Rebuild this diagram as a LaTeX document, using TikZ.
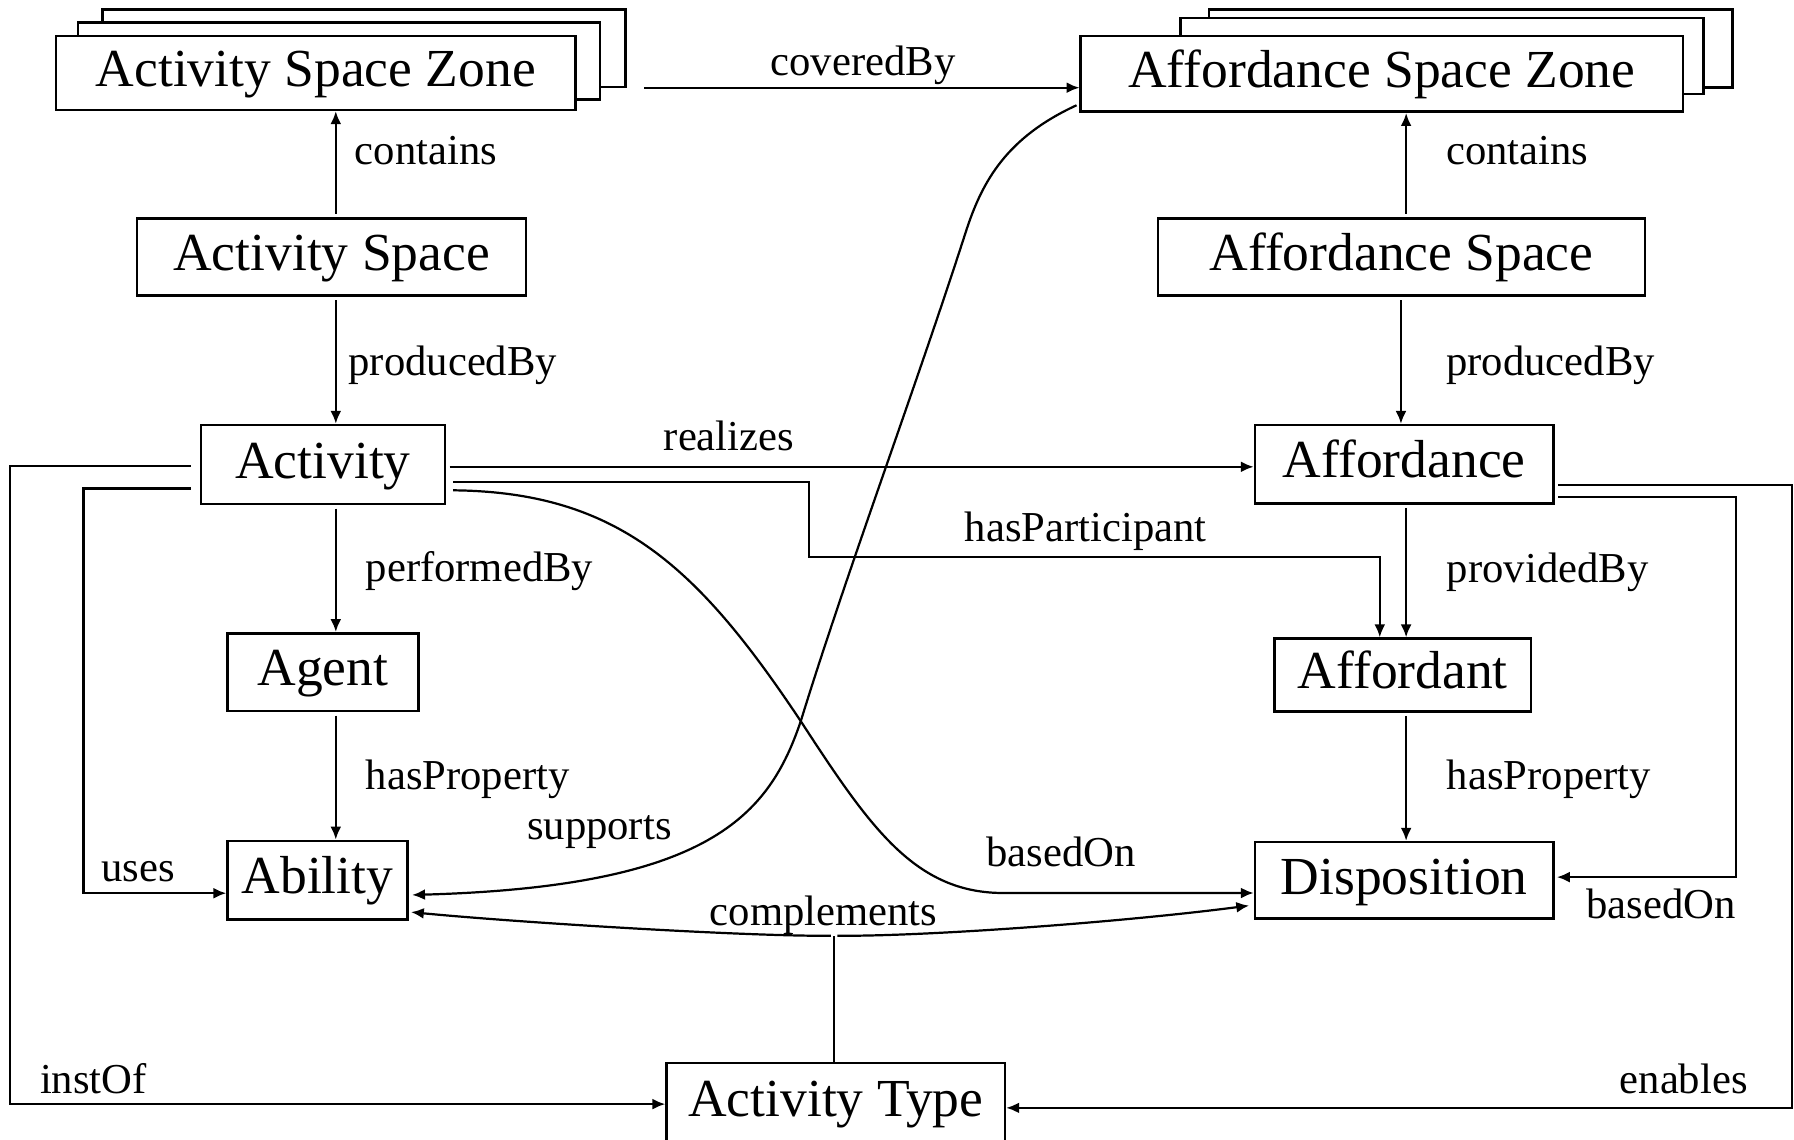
\documentclass[tikz,border=0pt]{standalone}
\usepackage{fontspec}
\setmainfont{Liberation Serif}
\usetikzlibrary{arrows.meta,calc,backgrounds}

\newcommand\conceptfont{\fontsize{13.3}{16}\selectfont}
\newcommand\relfont{\fontsize{10.6}{13}\selectfont}

\begin{document}
\begin{tikzpicture}[x=0.01cm,y=-0.01cm,
  concept/.style={draw, line width=0.65pt, fill=white, inner sep=0pt,
    font=\conceptfont, text height=9.04pt, text depth=2.26pt},
  stackbox/.style={draw, line width=0.65pt, fill=white},
  rel/.style={line width=0.55pt},
  arr/.style={rel, shorten <=0.8pt, -{Latex[length=3.2pt,width=2.7pt]}},
  lbl/.style={font=\relfont, inner sep=0pt, anchor=base west}]

\useasboundingbox (0,0) rectangle (1568,996);

% concepts
\node[concept, minimum width=4.54cm, minimum height=0.645cm] (asz)  at (276,63.75)   {Activity Space Zone};
\node[concept, minimum width=3.40cm, minimum height=0.677cm] (as)   at (289.75,224.6) {Activity Space};
\node[concept, minimum width=2.134cm, minimum height=0.69cm] (act)  at (282.3,406)    {Activity};
\node[concept, minimum width=1.665cm, minimum height=0.68cm] (agent) at (282.3,587.5) {Agent};
\node[concept, minimum width=1.57cm, minimum height=0.685cm] (abil) at (277.5,769.2)  {Ability};
\node[concept, minimum width=5.26cm, minimum height=0.661cm] (afsz) at (1207.8,64.6)  {Affordance Space Zone};
\node[concept, minimum width=4.254cm, minimum height=0.677cm] (afs) at (1225,224.6)   {Affordance Space};
\node[concept, minimum width=2.605cm, minimum height=0.684cm] (aff) at (1227.3,405.8) {Affordance};
\node[concept, minimum width=2.24cm, minimum height=0.636cm] (affd) at (1226,590)     {Affordant};
\node[concept, minimum width=2.605cm, minimum height=0.67cm] (disp) at (1227.3,769.5) {Disposition};
\node[concept, minimum width=2.955cm, minimum height=0.69cm] (atype) at (730.5,963.5) {Activity Type};

% stacked sheets behind the zone concepts
\begin{scope}[on background layer]
  \draw[stackbox] ($(asz.north west)+(42,-21.9)$) rectangle ($(asz.south east)+(42.5,-21)$);
  \draw[stackbox] ($(asz.north west)+(20.5,-10.5)$) rectangle ($(asz.south east)+(20,-10)$);
  \draw[stackbox] ($(afsz.north west)+(113.2,-21.9)$) rectangle ($(afsz.south east)+(42.2,-22.4)$);
  \draw[stackbox] ($(afsz.north west)+(88.2,-14.6)$) rectangle ($(afsz.south east)+(16.6,-16.6)$);
\end{scope}

% vertical columns
\coordinate (colL) at (293.5,0);
\coordinate (colRa) at (1229,0);
\coordinate (colRb) at (1224.5,0);

\draw[arr] (colL |- as.north) -- (colL |- asz.south);
\draw[arr] (colL |- as.south) -- (colL |- act.north);
\draw[arr] (colL |- act.south) -- (colL |- agent.north);
\draw[arr] (colL |- agent.south) -- (colL |- abil.north);
\draw[arr] (colRa |- afs.north) -- (colRa |- afsz.south);
\draw[arr] (colRb |- afs.south) -- (colRb |- aff.north);
\draw[arr] (colRa |- aff.south) -- (colRa |- affd.north);
\draw[arr] (colRa |- affd.south) -- (colRa |- disp.north);

% coveredBy
\coordinate (cvS) at ($(asz.east)+(56,12.9)$);
\draw[arr] (cvS) -- (cvS -| afsz.west);

% realizes
\coordinate (rzS) at ($(act.east)+(0,2)$);
\draw[arr] (rzS) -- (rzS -| aff.west);

% hasParticipant
\coordinate (hpS) at ($(act.east)+(3,15)$);
\coordinate (hpX) at (707,487);
\coordinate (hpD) at (1206,0);
\draw[arr] (hpS) -- (hpS -| hpX) -- (hpX) -- (hpX -| hpD) -- (hpD |- affd.north);

% basedOn (activity to disposition)
\coordinate (boS) at ($(act.east)+(3,22.5)$);
\coordinate (boE) at ($(disp.west)+(0,11)$);
\draw[arr] (boS) .. controls (540,430) and (610,495) .. (701,632)
  .. controls (761,724) and (800,780.5) .. (877,780.5) -- (boE);

% supports
\coordinate (spS) at ($(afsz.south west)+(0,-8)$);
\coordinate (spE) at ($(abil.east)+(3,13)$);
\draw[arr] (spS) .. controls (880,120) and (859,158) .. (845,200)
  .. controls (800,340) and (740,500) .. (700,630)
  .. controls (672,713) and (620,775) .. (spE);

% complements
\coordinate (cj) at ($(atype.north)+(-1.5,-110)$);
\draw[rel, line width=0.4pt] (atype.north -| cj) -- (cj);
\draw[arr] (cj) .. controls (650,818.5) and (450,806) .. ($(abil.east)+(2,28)$);
\draw[arr] (cj) .. controls (810,818.5) and (980,806) .. ($(disp.west)+(-4,22)$);

% uses
\coordinate (usS) at ($(act.west)+(-5,21)$);
\coordinate (usX) at (73,0);
\coordinate (usE) at ($(abil.west)+(0,11.5)$);
\draw[arr] (usS) -- (usS -| usX) -- (usX |- usE) -- (usE);

% instOf
\coordinate (ioS) at ($(act.west)+(-5,1.5)$);
\coordinate (ioX) at (8.6,0);
\coordinate (ioE) at ($(atype.west)+(0,1.5)$);
\draw[arr] (ioS) -- (ioS -| ioX) -- (ioX |- ioE) -- (ioE);

% enables
\coordinate (enS) at ($(aff.east)+(0.5,18)$);
\coordinate (enX) at (1566.5,0);
\coordinate (enE) at ($(atype.east)+(0,4.8)$);
\draw[arr] (enS) -- (enS -| enX) -- (enX |- enE) -- (enE);

% basedOn (affordance to disposition)
\coordinate (brS) at ($(aff.east)+(0.5,28.7)$);
\coordinate (brX) at (1517.6,0);
\coordinate (brE) at ($(disp.east)+(2,-2.9)$);
\draw[arr] (brS) -- (brS -| brX) -- (brX |- brE) -- (brE);

% relation labels
\node[lbl] (lContL)  at (309.4,144)  {contains};
\node[lbl] (lProdL)  at (304,328)    {producedBy};
\node[lbl] (lPerf)   at (319,508)    {performedBy};
\node[lbl] (lPropL)  at (319,690)    {hasProperty};
\node[lbl] (lSupp)   at (460,734)    {supports};
\node[lbl] (lUses)   at (87.8,770.7) {uses};
\node[lbl] (lCompl)  at (619.8,808.6) {complements};
\node[lbl] (lBaseM)  at (861.5,757.6) {basedOn};
\node[lbl] (lBaseR)  at (1386,802.6) {basedOn};
\node[lbl] (lInst)   at (34.3,956)   {instOf};
\node[lbl] (lEnab)   at (1415,955.5) {enables};
\node[lbl] (lCov)    at (672.8,66.4) {coveredBy};
\node[lbl] (lReal)   at (579.5,394)  {realizes};
\node[lbl] (lPart)   at (842.7,473.5) {hasParticipant};
\node[lbl] (lContR)  at (1263.4,144) {contains};
\node[lbl] (lProdR)  at (1263.4,328) {producedBy};
\node[lbl] (lProv)   at (1264,509)   {providedBy};
\node[lbl] (lPropR)  at (1264,690)   {hasProperty};

\end{tikzpicture}
\end{document}
